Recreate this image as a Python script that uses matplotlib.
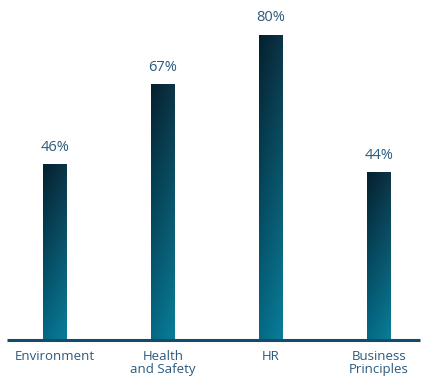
import numpy as np
import matplotlib
matplotlib.use("Agg")
import matplotlib.pyplot as plt
from matplotlib.colors import LinearSegmentedColormap

categories = ["Environment", "Health\nand Safety", "HR", "Business\nPrinciples"]
values = [46, 67, 80, 44]
value_labels = ["46%", "67%", "80%", "44%"]

text_color = "#2b5a7e"
axis_color = "#164a6c"

fig = plt.figure(figsize=(4.21, 3.78), dpi=100)
ax = fig.add_axes([0, 38 / 378, 1, 340 / 378])
ax.set_xlim(-0.509, 3.389)
ax.set_ylim(0, 89.2)
ax.axis("off")

# Bar fill: dark navy at top to teal at the base, slightly lighter on the right
top_cmap = LinearSegmentedColormap.from_list("top", ["#05202e", "#0c3446"])
bot_cmap = LinearSegmentedColormap.from_list("bot", ["#046a86", "#0a7e9a"])
ny, nx = 200, 40
t = np.linspace(0, 1, nx)
top_rgb = top_cmap(t)[:, :3]
bot_rgb = bot_cmap(t)[:, :3]
s = np.linspace(0, 1, ny)[:, None, None]  # 0 at top, 1 at bottom
grad = top_rgb[None, :, :] * (1 - s) + bot_rgb[None, :, :] * s

width = 0.22
x = np.arange(len(categories))
bars = ax.bar(x, values, width=width, color="none", edgecolor="none")
for bar, lab in zip(bars, value_labels):
    x0, w, h = bar.get_x(), bar.get_width(), bar.get_height()
    ax.imshow(grad, extent=[x0, x0 + w, 0, h], aspect="auto", origin="upper",
              interpolation="bilinear", zorder=2)
    ax.annotate(lab, (x0 + w / 2, h), xytext=(0, 7), textcoords="offset points",
                ha="center", va="bottom", fontsize=10.5, color=text_color,
                family="Open Sans")

# Baseline
ax.plot([-0.44, 3.38], [0, 0], color=axis_color, lw=2.2, solid_capstyle="butt",
        zorder=3, clip_on=False)

for xi, cat in zip(x, categories):
    ax.text(xi, -2.6, cat, ha="center", va="top", fontsize=9.5, color=text_color,
            family="Open Sans", linespacing=1.0, clip_on=False)

fig.savefig("out.png", dpi=100)
